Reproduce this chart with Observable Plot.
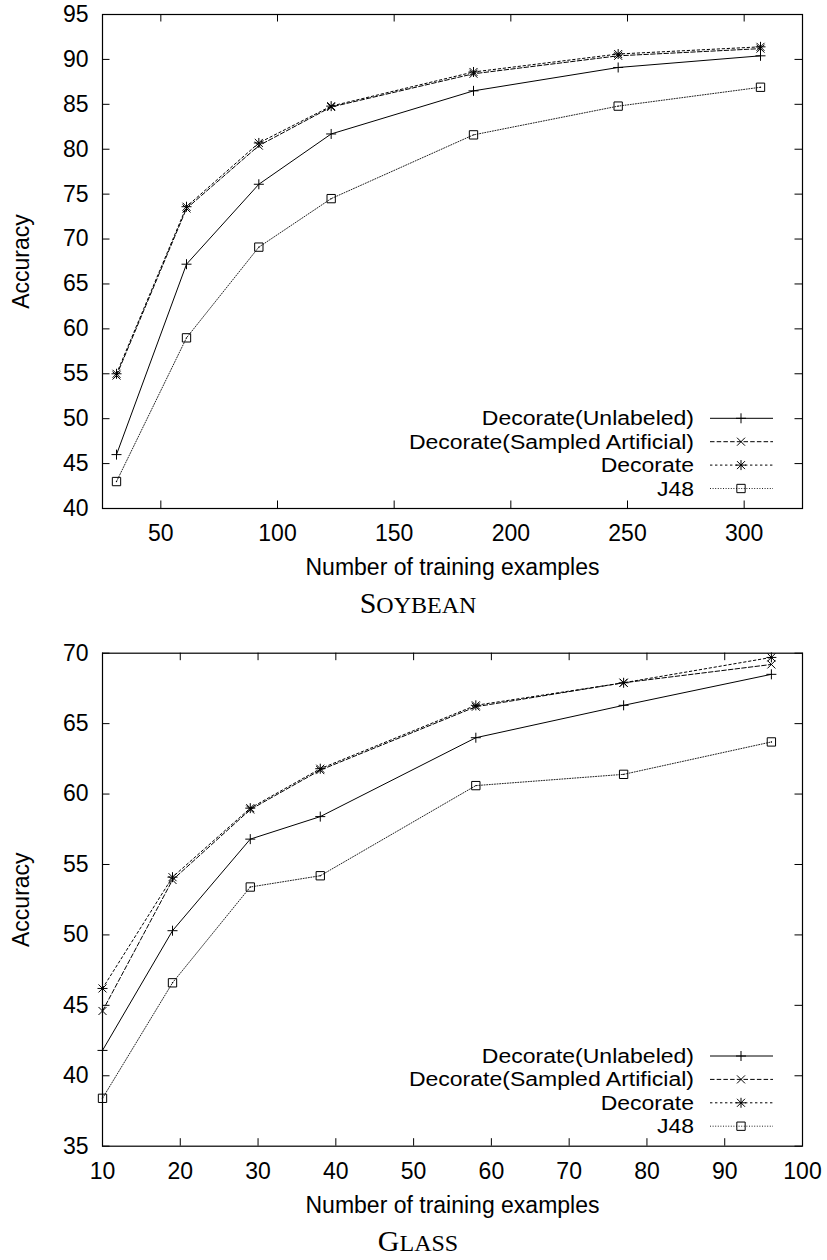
<!DOCTYPE html>
<html><head><meta charset="utf-8">
<script src="https://cdn.jsdelivr.net/npm/d3@7"></script>
<script src="https://cdn.jsdelivr.net/npm/@observablehq/plot@0.6"></script>
<style>
body{margin:0;background:#fff;}
#wrap{position:relative;width:827px;height:1260px;background:#fff;}
#wrap > svg{position:absolute;left:0;}
</style></head><body><div id="wrap"></div>
<script>
// ---- data ----
const seriesNames = ["Decorate(Unlabeled)", "Decorate(Sampled Artificial)", "Decorate", "J48"];

const soyX = [31, 61, 92, 123, 184, 246, 307];
const soyUnlabeled = [46.0, 67.2, 76.1, 81.7, 86.5, 89.1, 90.4];
const soySampled   = [54.8, 73.4, 80.4, 84.7, 88.4, 90.4, 91.2];
const soyDecorate  = [55.0, 73.6, 80.7, 84.8, 88.6, 90.6, 91.4];
const soyJ48       = [43.0, 59.0, 69.1, 74.5, 81.6, 84.8, 86.9];
const soyXTicks = [50, 100, 150, 200, 250, 300];
const soyYTicks = [40, 45, 50, 55, 60, 65, 70, 75, 80, 85, 90, 95];

const glassX = [10, 19, 29, 38, 58, 77, 96];
const glassUnlabeled = [41.8, 50.3, 56.8, 58.4, 64.0, 66.3, 68.5];
const glassSampled   = [44.6, 53.9, 58.9, 61.7, 66.2, 67.9, 69.2];
const glassDecorate  = [46.2, 54.1, 59.0, 61.8, 66.3, 67.9, 69.7];
const glassJ48       = [38.4, 46.6, 53.4, 54.2, 60.6, 61.4, 63.7];
const glassXTicks = [10, 20, 30, 40, 50, 60, 70, 80, 90, 100];
const glassYTicks = [35, 40, 45, 50, 55, 60, 65, 70];

const xLabel = "Number of training examples";
const yLabel = "Accuracy";

// ---- styles ----
const styles = {
  "Decorate(Unlabeled)": {dash: null, stroke: "#000", symbols: [["plus", 3.32]]},
  "Decorate(Sampled Artificial)": {dash: "4.5,2.2", stroke: "#000", symbols: [["times", 3.72]]},
  "Decorate": {dash: "2.4,2.6", stroke: "#000", symbols: [["plus", 3.32], ["times", 3.72]]},
  "J48": {dash: "1,1.6", stroke: "#222", symbols: [["square", 4.7]]}
};
const FONT = "'Liberation Sans', Arial, Helvetica, sans-serif";
const W = 827, mL = 102, mR = 25;
const legendTexts = [];

function chart(cfg) {
  const {xs, values, xDomain, yDomain, xTicks, yTicks, marginTop, marginBottom, height, top, capBig, capSmall} = cfg;
  const plotH = height - marginTop - marginBottom;
  const plotW = W - mL - mR;
  const tickLen = 7.5;
  const rows = [];
  seriesNames.forEach((name, k) => values[k].forEach((v, i) => rows.push({series: name, x: xs[i], y: v})));

  const marks = [
    Plot.ruleX(xTicks, {x: d => d, insetTop: plotH - tickLen, stroke: "#000", strokeWidth: 1}),
    Plot.ruleX(xTicks, {x: d => d, insetBottom: plotH - tickLen, stroke: "#000", strokeWidth: 1}),
    Plot.ruleY(yTicks, {y: d => d, insetRight: plotW - tickLen, stroke: "#000", strokeWidth: 1}),
    Plot.ruleY(yTicks, {y: d => d, insetLeft: plotW - tickLen, stroke: "#000", strokeWidth: 1}),
    Plot.axisX({ticks: xTicks, tickSize: 0, tickPadding: 16, label: null, tickFormat: d => String(d)}),
    Plot.axisY({ticks: yTicks, tickSize: 0, tickPadding: 14, label: null, tickFormat: d => String(d)}),
    Plot.text([xLabel], {frameAnchor: "bottom", text: d => d, dy: 59.6, textAnchor: "middle", lineAnchor: "middle", fill: "#000"}),
    Plot.text([yLabel], {frameAnchor: "left", text: d => d, dx: -81, rotate: -90, textAnchor: "middle", lineAnchor: "middle", fill: "#000"})
  ];
  seriesNames.forEach(name => {
    const st = styles[name];
    const data = rows.filter(r => r.series === name);
    marks.push(Plot.line(data, {x: "x", y: "y", stroke: st.stroke, strokeWidth: 1, strokeDasharray: st.dash || undefined}));
    st.symbols.forEach(([sym, r]) => {
      marks.push(Plot.dot(data, {x: "x", y: "y", symbol: sym, r, stroke: "#000", fill: "none", strokeWidth: 1}));
    });
    if (name === "J48") marks.push(Plot.dot(data, {x: "x", y: "y", r: 0.7, fill: "#000", stroke: "none"}));
  });
  marks.push(Plot.frame({stroke: "#000", strokeWidth: 1.2}));

  const svgEl = Plot.plot({
    width: W, height, marginLeft: mL, marginRight: mR, marginTop, marginBottom,
    x: {domain: xDomain},
    y: {domain: yDomain},
    style: {fontFamily: FONT, fontSize: "23px", color: "#000", background: "#fff"},
    marks
  });
  svgEl.style.top = top + "px";

  // legend
  const svg = d3.select(svgEl);
  const g = svg.append("g").attr("font-family", FONT).attr("font-size", 20);
  const right = W - mR, bottom = height - marginBottom;
  seriesNames.forEach((name, k) => {
    const st = styles[name];
    const yy = bottom - 19.5 - 23.4 * (3 - k);
    const t = g.append("text").attr("x", right - 108).attr("y", yy).attr("dy", "0.35em")
      .attr("text-anchor", "end").attr("fill", "#000").text(name);
    legendTexts.push(t.node());
    const ln = g.append("line").attr("x1", right - 92).attr("x2", right - 29)
      .attr("y1", yy).attr("y2", yy).attr("stroke", st.stroke).attr("stroke-width", 1);
    if (st.dash) ln.attr("stroke-dasharray", st.dash);
    const symMap = {plus: d3.symbolPlus, times: d3.symbolTimes, square: d3.symbolSquare};
    st.symbols.forEach(([sym, r]) => {
      g.append("path").attr("transform", `translate(${right - 61},${yy})`)
        .attr("d", d3.symbol(symMap[sym], r * r * Math.PI)())
        .attr("fill", "none").attr("stroke", "#000").attr("stroke-width", 1);
    });
  });
  // caption
  const cap = svg.append("text").attr("x", 418).attr("y", bottom + 105)
    .attr("text-anchor", "middle").attr("font-family", "'Liberation Serif', 'Times New Roman', serif").attr("fill", "#000");
  cap.append("tspan").attr("font-size", 30).text(capBig);
  cap.append("tspan").attr("font-size", 24).text(capSmall);
  return svgEl;
}

const wrap = document.getElementById("wrap");
wrap.appendChild(chart({
  xs: soyX, values: [soyUnlabeled, soySampled, soyDecorate, soyJ48],
  xDomain: [25, 325], yDomain: [40, 95], xTicks: soyXTicks, yTicks: soyYTicks,
  marginTop: 14, marginBottom: 122, height: 630, top: 0, capBig: "S", capSmall: "OYBEAN"
}));
wrap.appendChild(chart({
  xs: glassX, values: [glassUnlabeled, glassSampled, glassDecorate, glassJ48],
  xDomain: [10, 100], yDomain: [35, 70], xTicks: glassXTicks, yTicks: glassYTicks,
  marginTop: 22.7, marginBottom: 114.3, height: 630, top: 630, capBig: "G", capSmall: "LASS"
}));
// widen legend glyphs horizontally (reference text is laterally stretched)
legendTexts.forEach(t => {
  const w = t.getComputedTextLength();
  if (w > 0) { t.setAttribute("textLength", (w * 1.15).toFixed(1)); t.setAttribute("lengthAdjust", "spacingAndGlyphs"); }
});
</script></body></html>
